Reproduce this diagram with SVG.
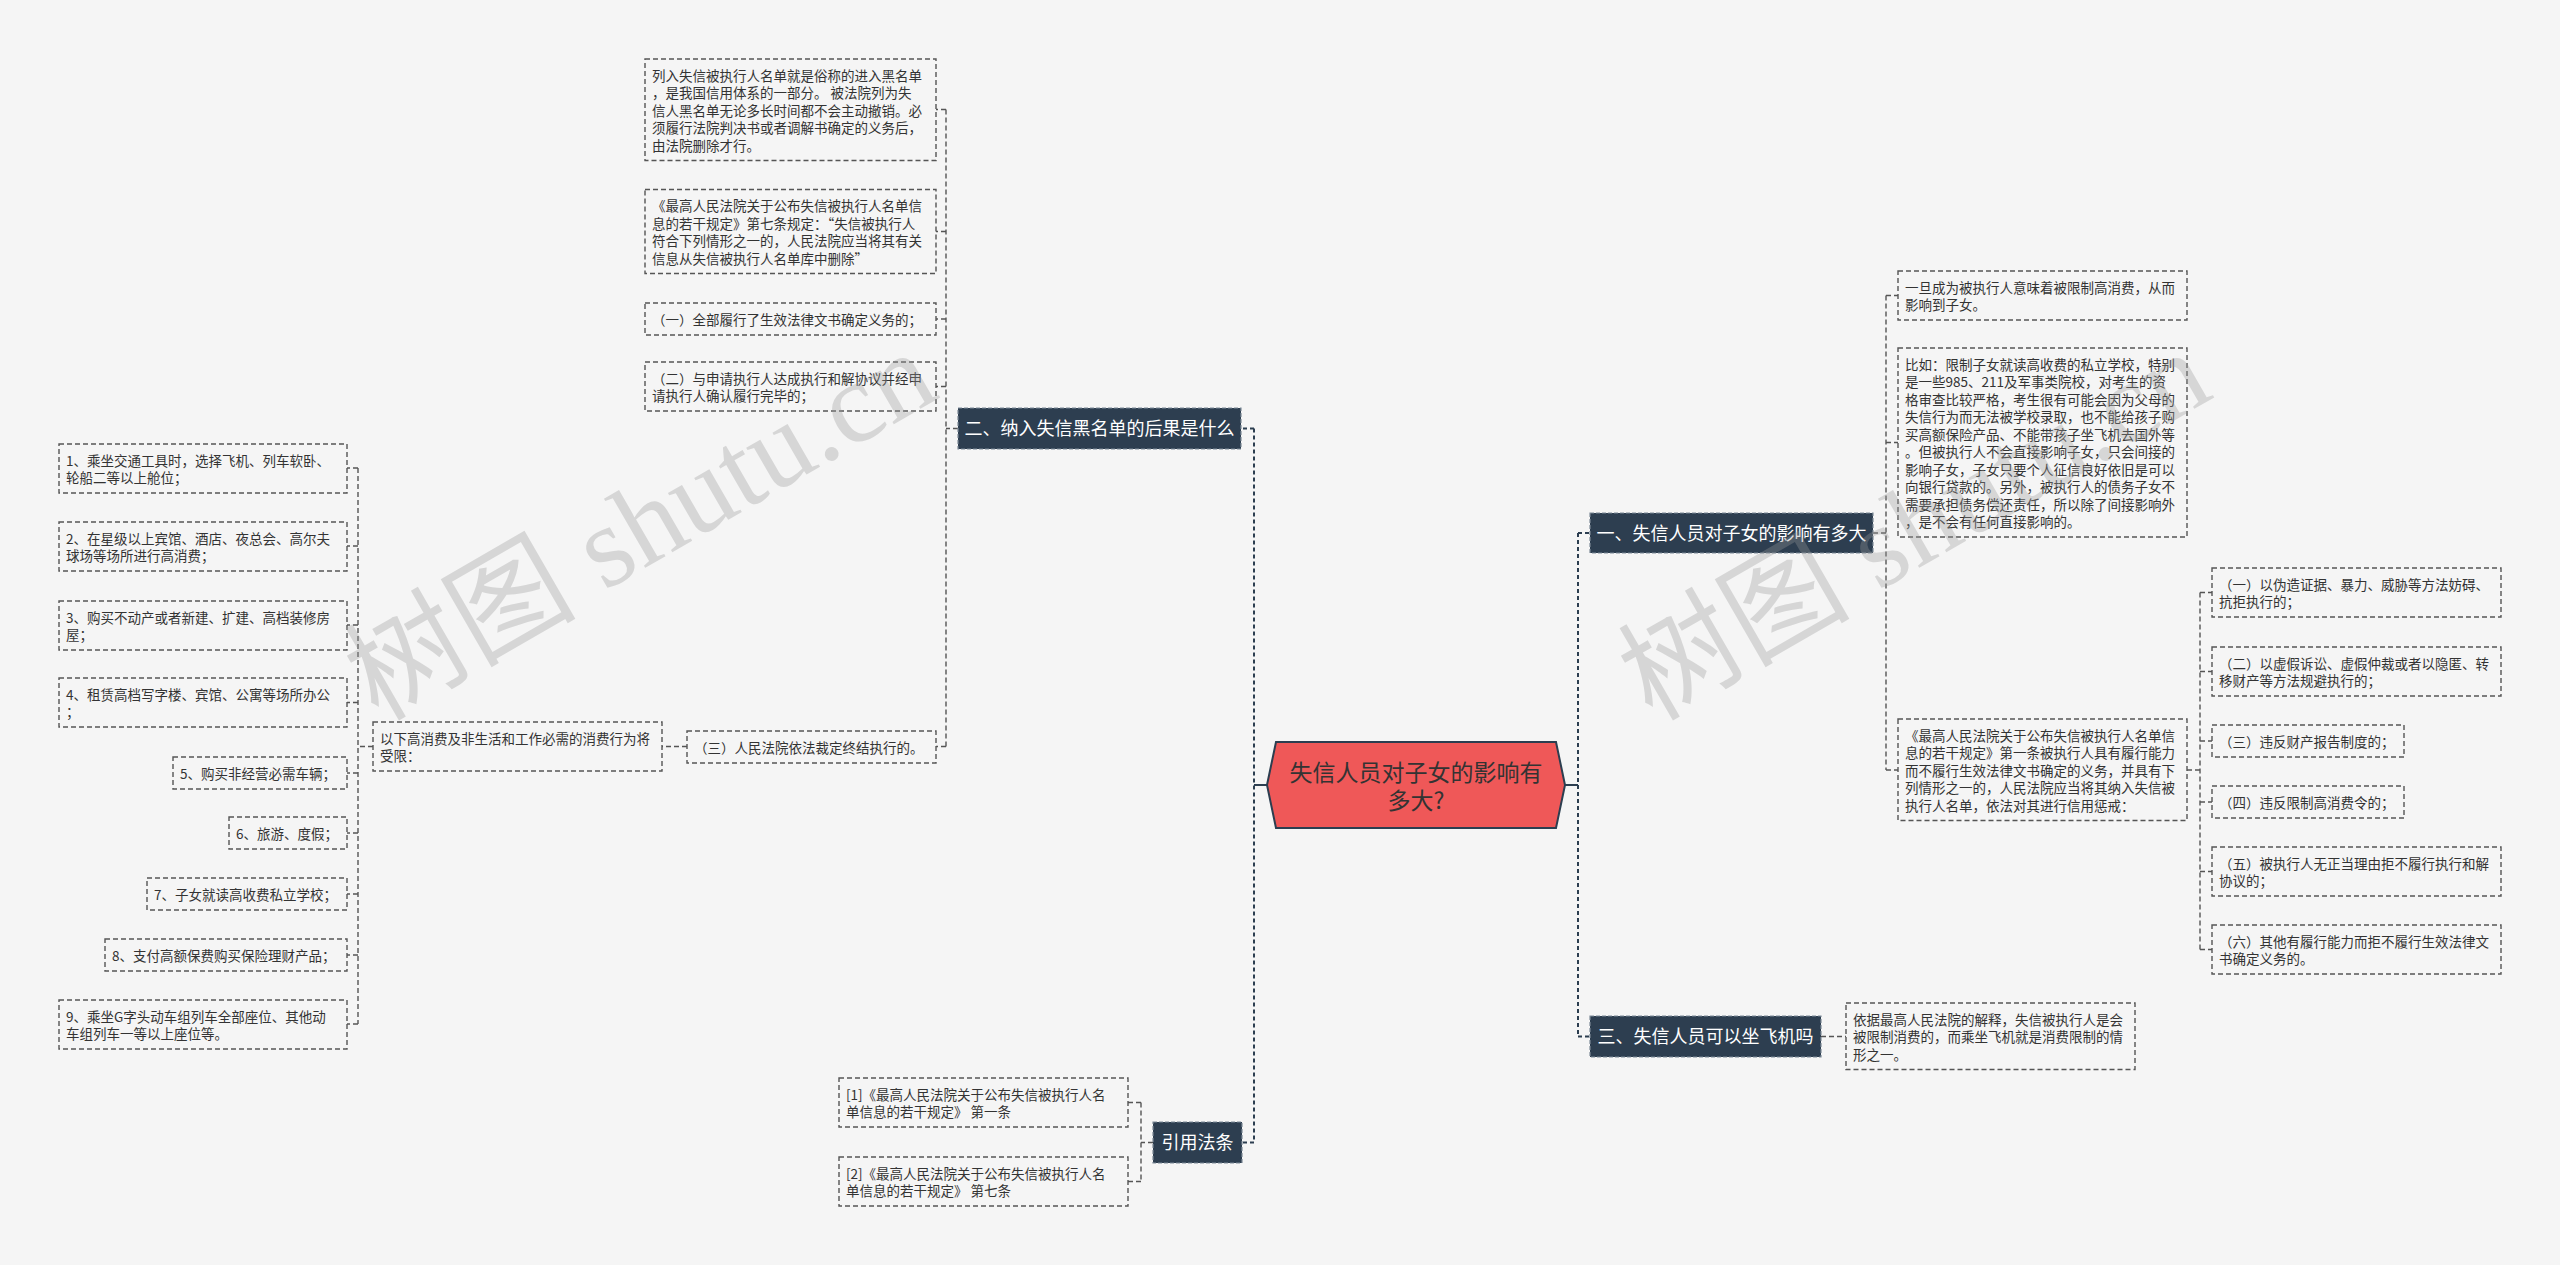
<svg xmlns="http://www.w3.org/2000/svg" width="2560" height="1265" viewBox="0 0 2560 1265">
<style>
.leaf rect{fill:#f5f5f5;stroke:#555;stroke-width:1.4;stroke-dasharray:5 3}
.leaf text{font-family:"Noto Sans CJK SC","Noto Sans",sans-serif;font-size:13.5px;fill:#333}
.dark rect{fill:#2d3e50;stroke:#7d8a97;stroke-width:1.2;stroke-dasharray:4 2}
.dark text{font-family:"Noto Sans CJK SC","Noto Sans",sans-serif;font-size:18px;fill:#fff;text-anchor:middle}
.main{fill:none;stroke:#2c3e50;stroke-width:2;stroke-dasharray:4 3}
.solid{fill:none;stroke:#2c3e50;stroke-width:2}
.sub{fill:none;stroke:#555;stroke-width:1.4;stroke-dasharray:5 3}
.wm{font-family:"Liberation Serif","Noto Sans CJK SC",serif;font-size:116px;fill:#999;opacity:0.33}
</style>
<rect x="0" y="0" width="2560" height="1265" fill="#f5f5f5"/>

<g id="connectors">
<path class="solid" d="M1267,785H1254M1565,785H1578"/>
<path class="main" d="M1254,428.5V1142.5M1254,428.5H1241M1254,1142.5H1242"/>
<path class="main" d="M1578,533V1036.5M1578,533H1590M1578,1036.5H1590"/>
<path class="sub" d="M958,428.5H946M946,109.5V746.5M946,109.5H936M946,231.5H936M946,319H936M946,386.5H936M946,746.5H936"/>
<path class="sub" d="M687,746.5H662"/>
<path class="sub" d="M373,746.5H358M358,468V1024M358,468H347M358,546H347M358,625H347M358,702.5H347M358,773H347M358,833H347M358,894H347M358,955H347M358,1024H347"/>
<path class="sub" d="M1153,1142.5H1141M1141,1102.5V1181.5M1141,1102.5H1128M1141,1181.5H1128"/>
<path class="sub" d="M1873,533H1886M1886,295.5V770M1886,295.5H1898M1886,442.5H1898M1886,770H1898"/>
<path class="sub" d="M2187,770H2200M2200,592.5V949.5M2200,592.5H2212M2200,671.5H2212M2200,741H2212M2200,802H2212M2200,871.5H2212M2200,949.5H2212"/>
<path class="sub" d="M1821,1036.5H1846"/>
</g>

<g id="center">
<polygon points="1267,785 1276,742 1556,742 1565,785 1556,828 1276,828" fill="#ef5858" stroke="#2c3e50" stroke-width="2"/>
<text font-family="Noto Sans CJK SC, Noto Sans, sans-serif" font-size="23" fill="#333" text-anchor="middle"><tspan x="1416" y="780.5">失信人员对子女的影响有</tspan><tspan x="1416" y="808.5">多大?</tspan></text>
</g>

<g id="n2" class="dark"><rect x="958" y="408" width="283" height="41"/><text x="1099.5" y="435">二、纳入失信黑名单的后果是什么</text></g>
<g id="n1" class="dark"><rect x="1590" y="513" width="283" height="40"/><text x="1731.5" y="539.5">一、失信人员对子女的影响有多大</text></g>
<g id="n3" class="dark"><rect x="1590" y="1016" width="231" height="41"/><text x="1705.5" y="1043">三、失信人员可以坐飞机吗</text></g>
<g id="n4" class="dark"><rect x="1153" y="1122" width="89" height="41"/><text x="1197.5" y="1149">引用法条</text></g>

<g id="c1" class="leaf"><rect x="645" y="59" width="291" height="101.5"/><text><tspan x="652" y="80.5">列入失信被执行人名单就是俗称的进入黑名单</tspan><tspan x="652" y="98">，是我国信用体系的一部分。 被法院列为失</tspan><tspan x="652" y="115.5">信人黑名单无论多长时间都不会主动撤销。必</tspan><tspan x="652" y="133">须履行法院判决书或者调解书确定的义务后，</tspan><tspan x="652" y="150.5">由法院删除才行。</tspan></text></g>
<g id="c2" class="leaf"><rect x="645" y="189.5" width="291" height="84"/><text><tspan x="652" y="211">《最高人民法院关于公布失信被执行人名单信</tspan><tspan x="652" y="228.5">息的若干规定》第七条规定：“失信被执行人</tspan><tspan x="652" y="246">符合下列情形之一的，人民法院应当将其有关</tspan><tspan x="652" y="263.5">信息从失信被执行人名单库中删除”</tspan></text></g>
<g id="c3" class="leaf"><rect x="645" y="303" width="291" height="32"/><text x="652" y="324.5">（一）全部履行了生效法律文书确定义务的；</text></g>
<g id="c4" class="leaf"><rect x="645" y="362" width="291" height="49"/><text><tspan x="652" y="383.5">（二）与申请执行人达成执行和解协议并经申</tspan><tspan x="652" y="401">请执行人确认履行完毕的；</tspan></text></g>
<g id="c5" class="leaf"><rect x="687" y="731" width="249" height="32"/><text x="694" y="752.5">（三）人民法院依法裁定终结执行的。</text></g>
<g id="c5a" class="leaf"><rect x="373" y="722" width="289" height="49"/><text><tspan x="380" y="743.5">以下高消费及非生活和工作必需的消费行为将</tspan><tspan x="380" y="761">受限：</tspan></text></g>

<g id="b1" class="leaf"><rect x="59" y="444" width="288" height="49"/><text><tspan x="66" y="465.5">1、乘坐交通工具时，选择飞机、列车软卧、</tspan><tspan x="66" y="483">轮船二等以上舱位；</tspan></text></g>
<g id="b2" class="leaf"><rect x="59" y="522" width="288" height="49"/><text><tspan x="66" y="543.5">2、在星级以上宾馆、酒店、夜总会、高尔夫</tspan><tspan x="66" y="561">球场等场所进行高消费；</tspan></text></g>
<g id="b3" class="leaf"><rect x="59" y="601" width="288" height="49"/><text><tspan x="66" y="622.5">3、购买不动产或者新建、扩建、高档装修房</tspan><tspan x="66" y="640">屋；</tspan></text></g>
<g id="b4" class="leaf"><rect x="59" y="678" width="288" height="49"/><text><tspan x="66" y="699.5">4、租赁高档写字楼、宾馆、公寓等场所办公</tspan><tspan x="66" y="717">；</tspan></text></g>
<g id="b5" class="leaf"><rect x="173" y="757" width="174" height="32"/><text x="180" y="778.5">5、购买非经营必需车辆；</text></g>
<g id="b6" class="leaf"><rect x="229" y="817" width="118" height="32"/><text x="236" y="838.5">6、旅游、度假；</text></g>
<g id="b7" class="leaf"><rect x="147" y="878" width="200" height="32"/><text x="154" y="899.5">7、子女就读高收费私立学校；</text></g>
<g id="b8" class="leaf"><rect x="105" y="939" width="242" height="32"/><text x="112" y="960.5">8、支付高额保费购买保险理财产品；</text></g>
<g id="b9" class="leaf"><rect x="59" y="1000" width="288" height="49"/><text><tspan x="66" y="1021.5">9、乘坐G字头动车组列车全部座位、其他动</tspan><tspan x="66" y="1039">车组列车一等以上座位等。</tspan></text></g>

<g id="r1" class="leaf"><rect x="839" y="1078" width="289" height="49"/><text><tspan x="846" y="1099.5">[1]《最高人民法院关于公布失信被执行人名</tspan><tspan x="846" y="1117">单信息的若干规定》 第一条</tspan></text></g>
<g id="r2" class="leaf"><rect x="839" y="1157" width="289" height="49"/><text><tspan x="846" y="1178.5">[2]《最高人民法院关于公布失信被执行人名</tspan><tspan x="846" y="1196">单信息的若干规定》 第七条</tspan></text></g>

<g id="a1" class="leaf"><rect x="1898" y="271" width="289" height="49"/><text><tspan x="1905" y="292.5">一旦成为被执行人意味着被限制高消费，从而</tspan><tspan x="1905" y="310">影响到子女。</tspan></text></g>
<g id="a2" class="leaf"><rect x="1898" y="348" width="289" height="189"/><text><tspan x="1905" y="369.5">比如：限制子女就读高收费的私立学校，特别</tspan><tspan x="1905" y="387">是一些985、211及军事类院校，对考生的资</tspan><tspan x="1905" y="404.5">格审查比较严格，考生很有可能会因为父母的</tspan><tspan x="1905" y="422">失信行为而无法被学校录取，也不能给孩子购</tspan><tspan x="1905" y="439.5">买高额保险产品、不能带孩子坐飞机去国外等</tspan><tspan x="1905" y="457">。但被执行人不会直接影响子女，只会间接的</tspan><tspan x="1905" y="474.5">影响子女，子女只要个人征信良好依旧是可以</tspan><tspan x="1905" y="492">向银行贷款的。另外，被执行人的债务子女不</tspan><tspan x="1905" y="509.5">需要承担债务偿还责任，所以除了间接影响外</tspan><tspan x="1905" y="527">，是不会有任何直接影响的。</tspan></text></g>
<g id="a3" class="leaf"><rect x="1898" y="719" width="289" height="101.5"/><text><tspan x="1905" y="740.5">《最高人民法院关于公布失信被执行人名单信</tspan><tspan x="1905" y="758">息的若干规定》第一条被执行人具有履行能力</tspan><tspan x="1905" y="775.5">而不履行生效法律文书确定的义务，并具有下</tspan><tspan x="1905" y="793">列情形之一的，人民法院应当将其纳入失信被</tspan><tspan x="1905" y="810.5">执行人名单，依法对其进行信用惩戒：</tspan></text></g>

<g id="d1" class="leaf"><rect x="2212" y="568" width="289" height="49"/><text><tspan x="2219" y="589.5">（一）以伪造证据、暴力、威胁等方法妨碍、</tspan><tspan x="2219" y="607">抗拒执行的；</tspan></text></g>
<g id="d2" class="leaf"><rect x="2212" y="647" width="289" height="49"/><text><tspan x="2219" y="668.5">（二）以虚假诉讼、虚假仲裁或者以隐匿、转</tspan><tspan x="2219" y="686">移财产等方法规避执行的；</tspan></text></g>
<g id="d3" class="leaf"><rect x="2212" y="725" width="192" height="32"/><text x="2219" y="746.5">（三）违反财产报告制度的；</text></g>
<g id="d4" class="leaf"><rect x="2212" y="786" width="192" height="32"/><text x="2219" y="807.5">（四）违反限制高消费令的；</text></g>
<g id="d5" class="leaf"><rect x="2212" y="847" width="289" height="49"/><text><tspan x="2219" y="868.5">（五）被执行人无正当理由拒不履行执行和解</tspan><tspan x="2219" y="886">协议的；</tspan></text></g>
<g id="d6" class="leaf"><rect x="2212" y="925" width="289" height="49"/><text><tspan x="2219" y="946.5">（六）其他有履行能力而拒不履行生效法律文</tspan><tspan x="2219" y="964">书确定义务的。</tspan></text></g>

<g id="e1" class="leaf"><rect x="1846" y="1003" width="289" height="66.5"/><text><tspan x="1853" y="1024.5">依据最高人民法院的解释，失信被执行人是会</tspan><tspan x="1853" y="1042">被限制消费的，而乘坐飞机就是消费限制的情</tspan><tspan x="1853" y="1059.5">形之一。</tspan></text></g>

<text class="wm" transform="translate(378,722) rotate(-30)">树图 shutu.cn</text>
<text class="wm" transform="translate(1652,722) rotate(-30)">树图 shutu.cn</text>
</svg>
